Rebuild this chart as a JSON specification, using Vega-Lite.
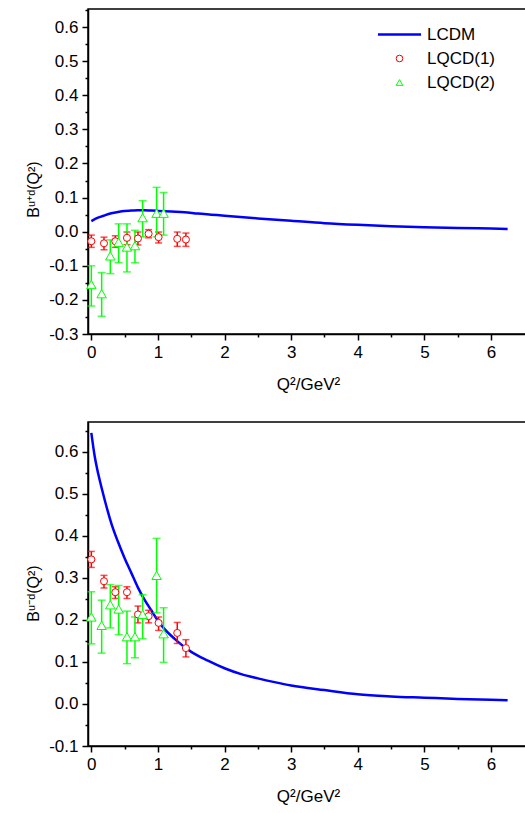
{
  "$schema": "https://vega.github.io/schema/vega-lite/v6.json",
  "padding": {"left": 24, "top": 8, "right": 0, "bottom": 0},
  "spacing": 28,
  "config": {
    "font": "Liberation Sans",
    "view": {"stroke": "#000", "strokeWidth": 1.5},
    "axis": {"grid": false, "domainColor": "#000", "domainWidth": 1.5, "tickColor": "#000", "tickWidth": 1.5,
      "labelFont": "Liberation Sans", "labelFontSize": 17, "labelColor": "#000", "labelOverlap": false, "labelFlush": false,
      "titleFont": "Liberation Sans", "titleFontSize": 17, "titleFontWeight": "normal", "titleColor": "#000"},
    "legend": {"labelFont": "Liberation Sans", "labelFontSize": 17, "labelColor": "#000", "padding": 0,
      "symbolFillColor": "white", "symbolStrokeWidth": 1}
  },
  "datasets": {
    "lcdm_top": [
      {"q2": 0, "b": 0.031}, {"q2": 0.1, "b": 0.041}, {"q2": 0.2, "b": 0.048}, {"q2": 0.3, "b": 0.054},
      {"q2": 0.4, "b": 0.058}, {"q2": 0.5, "b": 0.061}, {"q2": 0.6, "b": 0.062}, {"q2": 0.7, "b": 0.063},
      {"q2": 0.8, "b": 0.063}, {"q2": 0.9, "b": 0.062}, {"q2": 1.0, "b": 0.061}, {"q2": 1.2, "b": 0.059},
      {"q2": 1.4, "b": 0.057}, {"q2": 1.6, "b": 0.053}, {"q2": 1.8, "b": 0.05}, {"q2": 2.0, "b": 0.047},
      {"q2": 2.5, "b": 0.039}, {"q2": 3.0, "b": 0.032}, {"q2": 3.5, "b": 0.025}, {"q2": 4.0, "b": 0.02},
      {"q2": 4.5, "b": 0.016}, {"q2": 5.0, "b": 0.013}, {"q2": 5.5, "b": 0.011}, {"q2": 6.0, "b": 0.009},
      {"q2": 6.25, "b": 0.008}
    ],
    "lqcd_top": [
      {"s": "LQCD(1)", "q2": 0, "b": -0.028, "lo": -0.046, "hi": -0.010},
      {"s": "LQCD(1)", "q2": 0.19, "b": -0.034, "lo": -0.053, "hi": -0.016},
      {"s": "LQCD(1)", "q2": 0.36, "b": -0.028, "lo": -0.046, "hi": -0.012},
      {"s": "LQCD(1)", "q2": 0.535, "b": -0.018, "lo": -0.038, "hi": -0.001},
      {"s": "LQCD(1)", "q2": 0.70, "b": -0.020, "lo": -0.039, "hi": -0.001},
      {"s": "LQCD(1)", "q2": 0.86, "b": -0.006, "lo": -0.018, "hi": 0.006},
      {"s": "LQCD(1)", "q2": 1.01, "b": -0.016, "lo": -0.033, "hi": -0.001},
      {"s": "LQCD(1)", "q2": 1.29, "b": -0.021, "lo": -0.043, "hi": -0.001},
      {"s": "LQCD(1)", "q2": 1.42, "b": -0.023, "lo": -0.043, "hi": -0.004},
      {"s": "LQCD(2)", "q2": 0, "b": -0.155, "lo": -0.218, "hi": -0.100},
      {"s": "LQCD(2)", "q2": 0.155, "b": -0.182, "lo": -0.248, "hi": -0.120},
      {"s": "LQCD(2)", "q2": 0.285, "b": -0.071, "lo": -0.123, "hi": -0.024},
      {"s": "LQCD(2)", "q2": 0.41, "b": -0.031, "lo": -0.091, "hi": 0.023},
      {"s": "LQCD(2)", "q2": 0.535, "b": -0.045, "lo": -0.118, "hi": 0.023},
      {"s": "LQCD(2)", "q2": 0.655, "b": -0.041, "lo": -0.091, "hi": 0.004},
      {"s": "LQCD(2)", "q2": 0.77, "b": 0.041, "lo": -0.015, "hi": 0.091},
      {"s": "LQCD(2)", "q2": 0.98, "b": 0.054, "lo": -0.015, "hi": 0.130},
      {"s": "LQCD(2)", "q2": 1.085, "b": 0.054, "lo": -0.010, "hi": 0.115}
    ],
    "lcdm_bot": [
      {"q2": 0, "b": 0.645}, {"q2": 0.05, "b": 0.59}, {"q2": 0.1, "b": 0.55}, {"q2": 0.15, "b": 0.517},
      {"q2": 0.2, "b": 0.486}, {"q2": 0.3, "b": 0.43}, {"q2": 0.4, "b": 0.386}, {"q2": 0.5, "b": 0.347},
      {"q2": 0.6, "b": 0.312}, {"q2": 0.7, "b": 0.277}, {"q2": 0.8, "b": 0.248}, {"q2": 0.9, "b": 0.223},
      {"q2": 1.0, "b": 0.198}, {"q2": 1.1, "b": 0.178}, {"q2": 1.25, "b": 0.155}, {"q2": 1.5, "b": 0.124},
      {"q2": 1.75, "b": 0.103}, {"q2": 2.0, "b": 0.085}, {"q2": 2.25, "b": 0.071}, {"q2": 2.5, "b": 0.061},
      {"q2": 2.75, "b": 0.052}, {"q2": 3.0, "b": 0.044}, {"q2": 3.5, "b": 0.033}, {"q2": 4.0, "b": 0.023},
      {"q2": 4.5, "b": 0.018}, {"q2": 5.0, "b": 0.015}, {"q2": 5.5, "b": 0.012}, {"q2": 6.0, "b": 0.010},
      {"q2": 6.25, "b": 0.009}
    ],
    "lqcd_bot": [
      {"s": "LQCD(1)", "q2": 0, "b": 0.344, "lo": 0.325, "hi": 0.363},
      {"s": "LQCD(1)", "q2": 0.19, "b": 0.292, "lo": 0.276, "hi": 0.306},
      {"s": "LQCD(1)", "q2": 0.36, "b": 0.266, "lo": 0.251, "hi": 0.279},
      {"s": "LQCD(1)", "q2": 0.535, "b": 0.266, "lo": 0.251, "hi": 0.279},
      {"s": "LQCD(1)", "q2": 0.70, "b": 0.213, "lo": 0.193, "hi": 0.233},
      {"s": "LQCD(1)", "q2": 0.86, "b": 0.209, "lo": 0.193, "hi": 0.223},
      {"s": "LQCD(1)", "q2": 1.01, "b": 0.193, "lo": 0.175, "hi": 0.207},
      {"s": "LQCD(1)", "q2": 1.29, "b": 0.169, "lo": 0.144, "hi": 0.194},
      {"s": "LQCD(1)", "q2": 1.42, "b": 0.133, "lo": 0.112, "hi": 0.153},
      {"s": "LQCD(2)", "q2": 0, "b": 0.207, "lo": 0.143, "hi": 0.267},
      {"s": "LQCD(2)", "q2": 0.155, "b": 0.187, "lo": 0.121, "hi": 0.247},
      {"s": "LQCD(2)", "q2": 0.285, "b": 0.236, "lo": 0.181, "hi": 0.284},
      {"s": "LQCD(2)", "q2": 0.41, "b": 0.226, "lo": 0.165, "hi": 0.282},
      {"s": "LQCD(2)", "q2": 0.535, "b": 0.160, "lo": 0.096, "hi": 0.221},
      {"s": "LQCD(2)", "q2": 0.655, "b": 0.160, "lo": 0.110, "hi": 0.207},
      {"s": "LQCD(2)", "q2": 0.77, "b": 0.213, "lo": 0.155, "hi": 0.260},
      {"s": "LQCD(2)", "q2": 0.98, "b": 0.306, "lo": 0.217, "hi": 0.394},
      {"s": "LQCD(2)", "q2": 1.085, "b": 0.167, "lo": 0.099, "hi": 0.229}
    ]
  },
  "vconcat": [
    {
      "width": 440, "height": 325,
      "layer": [
        {
          "data": {"name": "lcdm_top"},
          "transform": [{"calculate": "'LCDM'", "as": "s"}],
          "mark": {"type": "line", "strokeWidth": 2.5, "interpolate": "monotone"},
          "encoding": {
            "x": {"field": "q2", "type": "quantitative", "title": "Q²/GeV²", "scale": {"domain": [-0.05, 6.556], "nice": false, "zero": false},
              "axis": {"values": [0,0.5,1,1.5,2,2.5,3,3.5,4,4.5,5,5.5,6], "tickCount": 100, "labelOverlap": false,
                "labelExpr": "datum.value % 1 === 0 ? format(datum.value, 'd') : ''",
                "labelFontSize": {"condition": {"test": "datum.value % 1 === 0", "value": 17}, "value": 0},
                "tickSize": {"condition": {"test": "datum.value % 1 === 0", "value": 6}, "value": 3},
                "labelPadding": 4, "titleY": 50, "titleBaseline": "middle"}},
            "y": {"field": "b", "type": "quantitative", "title": "Bᵘ⁺ᵈ(Q²)", "scale": {"domain": [-0.3, 0.653], "nice": false, "zero": false},
              "axis": {"titleFontSize": 16, "labelOverlap": false, "tickCount": 100,
                "values": [-0.3,-0.25,-0.2,-0.15,-0.1,-0.05,0,0.05,0.1,0.15,0.2,0.25,0.3,0.35,0.4,0.45,0.5,0.55,0.6,0.65],
                "labelExpr": "abs(datum.value*10 - round(datum.value*10)) < 0.001 ? (datum.value < -0.001 ? '-' : '') + format(abs(datum.value), '.1f') : ''",
                "labelFontSize": {"condition": {"test": "abs(datum.value*10 - round(datum.value*10)) < 0.001", "value": 17}, "value": 0},
                "tickSize": {"condition": {"test": "abs(datum.value*10 - round(datum.value*10)) < 0.001", "value": 6}, "value": 3},
                "labelPadding": 4, "titleX": -55, "titleY": 180, "titleBaseline": "middle", "titleAngle": -90}},
            "color": {"field": "s", "type": "nominal",
              "scale": {"domain": ["LCDM", "LQCD(1)", "LQCD(2)"], "range": ["#0000ff", "#ff0000", "#00ff00"]},
              "legend": {"title": null, "orient": "none", "legendX": 303, "legendY": 17, "symbolSize": 44, "rowPadding": 6,
                "labelOffset": 19, "symbolFillColor": "white", "symbolStrokeWidth": 1,
                "encode": {"symbols": {"update": {
                  "strokeWidth": {"signal": "datum.value === 'LCDM' ? 2.5 : 1"},
                  "fill": {"value": "white"},
                  "fillOpacity": {"value": 0},
                  "stroke": {"scale": "color", "field": "value"}}}}}},
            "shape": {"field": "s", "type": "nominal",
              "scale": {"domain": ["LCDM", "LQCD(1)", "LQCD(2)"], "range": ["M-6.5,0L6.5,0", "circle", "triangle-up"]},
              "legend": {"title": null, "orient": "none", "legendX": 303, "legendY": 17, "symbolSize": 44, "rowPadding": 6,
                "labelOffset": 19, "symbolFillColor": "white", "symbolStrokeWidth": 1,
                "encode": {"symbols": {"update": {
                  "strokeWidth": {"signal": "datum.value === 'LCDM' ? 2.5 : 1"},
                  "fill": {"value": "white"},
                  "fillOpacity": {"value": 0},
                  "stroke": {"scale": "color", "field": "value"}}}}}}
          }
        },
        {
          "data": {"name": "lqcd_top"},
          "transform": [{"filter": "datum.s === 'LQCD(1)'"}],
          "mark": {"type": "errorbar", "color": "#ff0000", "ticks": {"size": 7, "thickness": 1.5}, "rule": {"strokeWidth": 1.5}},
          "encoding": {"x": {"field": "q2", "type": "quantitative", "title": "Q²/GeV²"}, "y": {"field": "lo", "type": "quantitative", "title": "Bᵘ⁺ᵈ(Q²)"}, "y2": {"field": "hi"}}
        },
        {
          "data": {"name": "lqcd_top"},
          "transform": [{"filter": "datum.s === 'LQCD(2)'"}],
          "mark": {"type": "errorbar", "color": "#00ff00", "ticks": {"size": 8, "thickness": 1.5}, "rule": {"strokeWidth": 1.5}},
          "encoding": {"x": {"field": "q2", "type": "quantitative", "title": "Q²/GeV²"}, "y": {"field": "lo", "type": "quantitative", "title": "Bᵘ⁺ᵈ(Q²)"}, "y2": {"field": "hi"}}
        },
        {
          "data": {"name": "lqcd_top"},
          "mark": {"type": "point", "filled": false, "fill": "white", "fillOpacity": 1, "strokeWidth": 1, "opacity": 1},
          "encoding": {
            "x": {"field": "q2", "type": "quantitative", "title": "Q²/GeV²"},
            "y": {"field": "b", "type": "quantitative", "title": "Bᵘ⁺ᵈ(Q²)"},
            "color": {"field": "s", "type": "nominal"},
            "shape": {"field": "s", "type": "nominal"},
            "size": {"condition": {"test": "datum.s === 'LQCD(2)'", "value": 90}, "value": 50}
          }
        }
      ]
    },
    {
      "width": 440, "height": 324,
      "layer": [
        {
          "data": {"name": "lcdm_bot"},
          "transform": [{"calculate": "'LCDM'", "as": "s"}],
          "mark": {"type": "line", "strokeWidth": 2.5, "interpolate": "monotone"},
          "encoding": {
            "x": {"field": "q2", "type": "quantitative", "title": "Q²/GeV²", "scale": {"domain": [-0.05, 6.556], "nice": false, "zero": false},
              "axis": {"values": [0,0.5,1,1.5,2,2.5,3,3.5,4,4.5,5,5.5,6], "tickCount": 100, "labelOverlap": false,
                "labelExpr": "datum.value % 1 === 0 ? format(datum.value, 'd') : ''",
                "labelFontSize": {"condition": {"test": "datum.value % 1 === 0", "value": 17}, "value": 0},
                "tickSize": {"condition": {"test": "datum.value % 1 === 0", "value": 6}, "value": 3},
                "labelPadding": 4, "titleY": 50, "titleBaseline": "middle"}},
            "y": {"field": "b", "type": "quantitative", "title": "Bᵘ⁻ᵈ(Q²)", "scale": {"domain": [-0.1, 0.671], "nice": false, "zero": false},
              "axis": {"titleFontSize": 16, "labelOverlap": false, "tickCount": 100,
                "values": [-0.1,-0.05,0,0.05,0.1,0.15,0.2,0.25,0.3,0.35,0.4,0.45,0.5,0.55,0.6,0.65],
                "labelExpr": "abs(datum.value*10 - round(datum.value*10)) < 0.001 ? (datum.value < -0.001 ? '-' : '') + format(abs(datum.value), '.1f') : ''",
                "labelFontSize": {"condition": {"test": "abs(datum.value*10 - round(datum.value*10)) < 0.001", "value": 17}, "value": 0},
                "tickSize": {"condition": {"test": "abs(datum.value*10 - round(datum.value*10)) < 0.001", "value": 6}, "value": 3},
                "labelPadding": 4, "titleX": -55, "titleY": 171, "titleBaseline": "middle", "titleAngle": -90}},
            "color": {"field": "s", "type": "nominal",
              "scale": {"domain": ["LCDM", "LQCD(1)", "LQCD(2)"], "range": ["#0000ff", "#ff0000", "#00ff00"]},
              "legend": {"title": null, "orient": "none", "legendX": 303, "legendY": 19, "symbolSize": 44, "rowPadding": 6,
                "labelOffset": 19, "symbolFillColor": "white", "symbolStrokeWidth": 1,
                "encode": {"symbols": {"update": {
                  "strokeWidth": {"signal": "datum.value === 'LCDM' ? 2.5 : 1"},
                  "fill": {"value": "white"},
                  "fillOpacity": {"value": 0},
                  "stroke": {"scale": "color", "field": "value"}}}}}},
            "shape": {"field": "s", "type": "nominal",
              "scale": {"domain": ["LCDM", "LQCD(1)", "LQCD(2)"], "range": ["M-6.5,0L6.5,0", "circle", "triangle-up"]},
              "legend": {"title": null, "orient": "none", "legendX": 303, "legendY": 19, "symbolSize": 44, "rowPadding": 6,
                "labelOffset": 19, "symbolFillColor": "white", "symbolStrokeWidth": 1,
                "encode": {"symbols": {"update": {
                  "strokeWidth": {"signal": "datum.value === 'LCDM' ? 2.5 : 1"},
                  "fill": {"value": "white"},
                  "fillOpacity": {"value": 0},
                  "stroke": {"scale": "color", "field": "value"}}}}}}
          }
        },
        {
          "data": {"name": "lqcd_bot"},
          "transform": [{"filter": "datum.s === 'LQCD(1)'"}],
          "mark": {"type": "errorbar", "color": "#ff0000", "ticks": {"size": 7, "thickness": 1.5}, "rule": {"strokeWidth": 1.5}},
          "encoding": {"x": {"field": "q2", "type": "quantitative", "title": "Q²/GeV²"}, "y": {"field": "lo", "type": "quantitative", "title": "Bᵘ⁻ᵈ(Q²)"}, "y2": {"field": "hi"}}
        },
        {
          "data": {"name": "lqcd_bot"},
          "transform": [{"filter": "datum.s === 'LQCD(2)'"}],
          "mark": {"type": "errorbar", "color": "#00ff00", "ticks": {"size": 8, "thickness": 1.5}, "rule": {"strokeWidth": 1.5}},
          "encoding": {"x": {"field": "q2", "type": "quantitative", "title": "Q²/GeV²"}, "y": {"field": "lo", "type": "quantitative", "title": "Bᵘ⁻ᵈ(Q²)"}, "y2": {"field": "hi"}}
        },
        {
          "data": {"name": "lqcd_bot"},
          "mark": {"type": "point", "filled": false, "fill": "white", "fillOpacity": 1, "strokeWidth": 1, "opacity": 1},
          "encoding": {
            "x": {"field": "q2", "type": "quantitative", "title": "Q²/GeV²"},
            "y": {"field": "b", "type": "quantitative", "title": "Bᵘ⁻ᵈ(Q²)"},
            "color": {"field": "s", "type": "nominal"},
            "shape": {"field": "s", "type": "nominal"},
            "size": {"condition": {"test": "datum.s === 'LQCD(2)'", "value": 90}, "value": 50}
          }
        }
      ]
    }
  ]
}
